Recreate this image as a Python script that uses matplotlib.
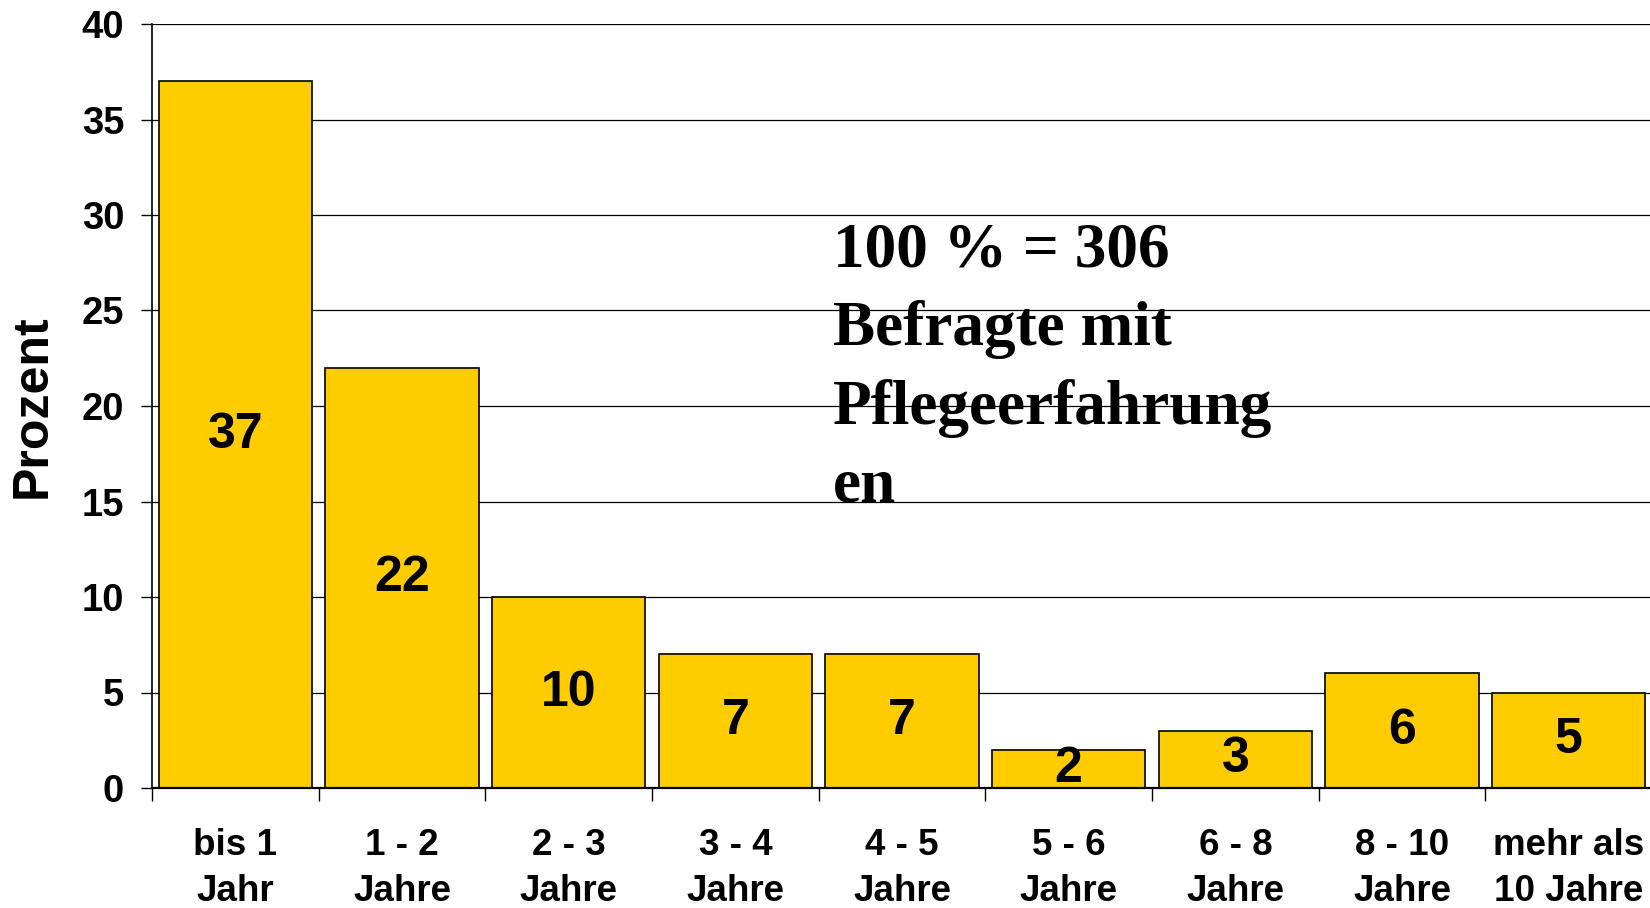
import numpy as np
import matplotlib.pyplot as plt

# data
categories = ['bis 1\nJahr', '1 - 2\nJahre', '2 - 3\nJahre', '3 - 4\nJahre', '4 - 5\nJahre',
              '5 - 6\nJahre', '6 - 8\nJahre', '8 - 10\nJahre', 'mehr als\n10 Jahre']
prozent = [37, 22, 10, 7, 7, 2, 3, 6, 5]
yticks = [0, 5, 10, 15, 20, 25, 30, 35, 40]
note = '100 % = 306\nBefragte mit\nPflegeerfahrung\nen'

plt.rcParams['font.family'] = ['Liberation Sans', 'DejaVu Sans']

fig = plt.figure(figsize=(16.5, 9.08), dpi=100)
ax = fig.add_axes([152/1650, 120/908, 1500/1650, 764/908])

x = np.arange(len(categories))
bars = ax.bar(x, prozent, width=0.92, color='#FFCC00', edgecolor='black', linewidth=1.2, zorder=2)
ax.bar_label(bars, label_type='center', fontsize=36, fontweight='bold')

ax.set_xlim(-0.5, len(categories) - 0.5)
ax.set_ylim(0, 40)
ax.set_yticks(yticks)
ax.yaxis.grid(True, color='black', linewidth=0.9)
ax.set_axisbelow(True)

ax.set_xticks(x)
ax.set_xticklabels(categories, fontsize=26.5, fontweight='bold', linespacing=1.44)
ax.set_xticks(np.arange(-0.5, len(categories), 1), minor=True)
ax.tick_params(axis='x', which='major', length=0, pad=28.5)
ax.tick_params(axis='x', which='minor', length=9, width=1, direction='out')
ax.tick_params(axis='y', length=8, width=1, direction='out', pad=12)
for t in ax.get_yticklabels():
    t.set_fontsize(27.5)
    t.set_fontweight('bold')

for s in ['top', 'right']:
    ax.spines[s].set_visible(False)
ax.spines['left'].set_linewidth(1.2)
ax.spines['bottom'].set_linewidth(1.6)

ax.set_ylabel('Prozent', fontsize=36, fontweight='bold')
ax.yaxis.set_label_coords(-0.064, 0.5)

ax.text(0.454, 0.740, note, transform=ax.transAxes, ha='left', va='top',
        family=['Liberation Serif', 'DejaVu Serif'], fontsize=45.5, fontweight='bold',
        linespacing=1.44)

fig.savefig('out.png', dpi=100)
